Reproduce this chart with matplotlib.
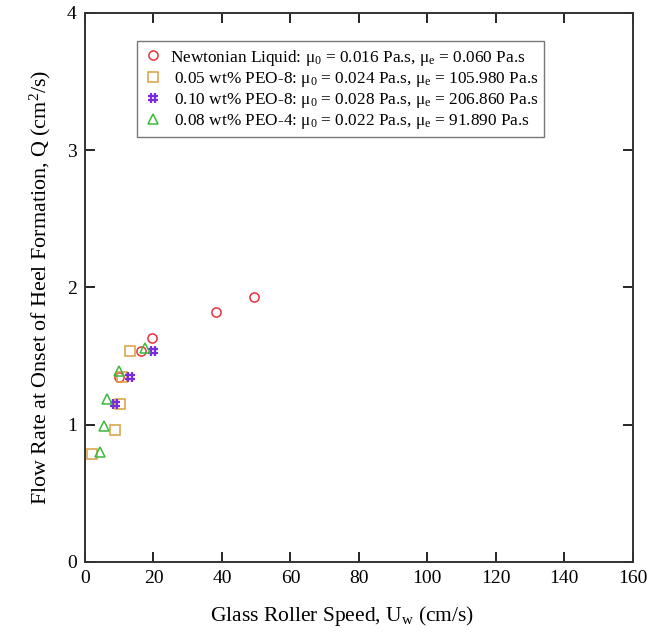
import matplotlib
matplotlib.use('Agg')
import matplotlib.pyplot as plt
from matplotlib.path import Path

plt.rcParams['font.family'] = 'Liberation Serif'
plt.rcParams['mathtext.fontset'] = 'custom'
plt.rcParams['mathtext.rm'] = 'Liberation Serif'
plt.rcParams['mathtext.it'] = 'Liberation Serif:italic'

# roller speed (cm/s) vs flow rate at heel onset (cm^2/s)
newt_u = [10.0, 16.4, 19.7, 38.2, 49.3]
newt_q = [1.345, 1.54, 1.635, 1.82, 1.93]

peo8_05_u = [2.1, 8.8, 10.2, 10.8, 13.1]
peo8_05_q = [0.79, 0.96, 1.15, 1.345, 1.535]

peo8_10_u = [8.8, 13.1, 19.8]
peo8_10_q = [1.15, 1.345, 1.535]

peo4_08_u = [4.4, 5.4, 6.3, 9.9, 17.5]
peo4_08_q = [0.80, 0.99, 1.19, 1.39, 1.56]

labels = [
    'Newtonian Liquid: μ$_0$ = 0.016 Pa.s, μ$_\\mathrm{e}$ = 0.060 Pa.s',
    ' 0.05 wt% PEO-8: μ$_0$ = 0.024 Pa.s, μ$_\\mathrm{e}$ = 105.980 Pa.s',
    ' 0.10 wt% PEO-8: μ$_0$ = 0.028 Pa.s, μ$_\\mathrm{e}$ = 206.860 Pa.s',
    ' 0.08 wt% PEO-4: μ$_0$ = 0.022 Pa.s, μ$_\\mathrm{e}$ = 91.890 Pa.s',
]

# upright hash marker built from four strokes
h = 0.35
hash_mark = Path(
    [(-h, -1), (-h, 1), (h, -1), (h, 1), (-1, -h), (1, -h), (-1, h), (1, h)],
    [Path.MOVETO, Path.LINETO] * 4)

fig = plt.figure(figsize=(6.49, 6.34), dpi=100)
ax = fig.add_axes([0.131, 0.1136, 0.844, 0.866])

ax.plot(newt_u, newt_q, 'o', ms=6.6, mfc='none', mec='#e8323c', mew=1.1, label=labels[0])
ax.plot(peo8_05_u, peo8_05_q, 's', ms=6.6, mfc='none', mec='#d9a040', mew=1.1, label=labels[1])
ax.plot(peo8_10_u, peo8_10_q, ls='none', marker=hash_mark, ms=7, mew=1.6,
        mfc='none', mec='#7a2be0', label=labels[2])
ax.plot(peo4_08_u, peo4_08_q, '^', ms=7.6, mfc='none', mec='#3cb93c', mew=1.1, label=labels[3])

ax.set_xlim(0, 160)
ax.set_ylim(0, 4)
ax.set_xticks(range(0, 161, 20))
ax.set_yticks(range(0, 5))
ax.tick_params(direction='in', length=7, width=1.2, top=True, right=True,
               labelsize=14, pad=6)
for s in ax.spines.values():
    s.set_linewidth(1.4)
    s.set_color('#333333')

ax.set_xlabel('Glass Roller Speed, U$_\\mathrm{w}$ (cm/s)', fontsize=15.5, labelpad=10)
ax.xaxis.set_label_coords(0.47, -0.077)
ax.set_ylabel('Flow Rate at Onset of Heel Formation, Q (cm$^2$/s)', fontsize=15.8, labelpad=10)

leg = ax.legend(loc='upper left', bbox_to_anchor=(0.095, 0.948), fontsize=12.4,
                frameon=True, fancybox=False, handletextpad=0.35, borderpad=0.35,
                labelspacing=0.12, handlelength=1.2, borderaxespad=0)
leg.get_frame().set_edgecolor('#555555')
leg.get_frame().set_linewidth(1.0)

fig.savefig('out.png', dpi=100)
